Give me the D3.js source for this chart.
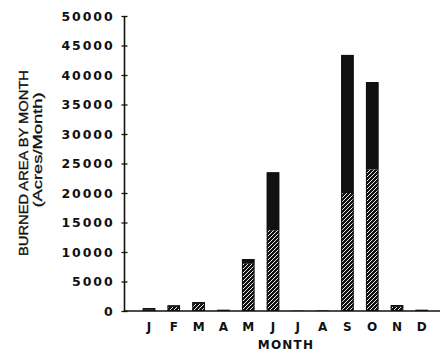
<!DOCTYPE html>
<html><head><meta charset="utf-8">
<script src="https://cdn.jsdelivr.net/npm/d3@7"></script>
<style>body{margin:0;background:#fff}svg{display:block}</style>
</head><body>
<svg id="c" width="444" height="352"></svg>
<script>
const months = ["J","F","M","A","M","J","J","A","S","O","N","D"];
const hatched = [200, 700, 1200, 50, 8000, 13700, 0, 0, 20000, 24000, 700, 50];
const solid   = [300, 250, 300, 150, 800, 9800, 60, 100, 23400, 14800, 300, 150];
const yTicks = [0,5000,10000,15000,20000,25000,30000,35000,40000,45000,50000];

const svg = d3.select("#c");
const defs = svg.append("defs");
const pat = defs.append("pattern").attr("id","hatch").attr("patternUnits","userSpaceOnUse")
  .attr("width",4).attr("height",4);
pat.append("rect").attr("width",4).attr("height",4).attr("fill","#111");
pat.append("path").attr("d","M-1,1 l2,-2 M0,4 l4,-4 M3,5 l2,-2").attr("stroke","#eee").attr("stroke-width",1);

const x = d3.scaleBand().domain(d3.range(12)).range([136.6, 434.2]);
const y = d3.scaleLinear().domain([0,50000]).range([311,16]);
const bw = 12.5;
const ink = "#111";
const font = "DejaVu Sans";

const g = svg.append("g");
const bars = g.selectAll("g.bar").data(d3.range(12)).join("g").attr("class","bar");
const bx = i => x(i) + (x.bandwidth()-bw)/2;
bars.append("rect")
  .attr("x", bx).attr("width", bw)
  .attr("y", i => y(hatched[i])).attr("height", i => y(0)-y(hatched[i]))
  .attr("fill","url(#hatch)");
bars.append("rect")
  .attr("x", bx).attr("width", bw)
  .attr("y", i => y(hatched[i]+solid[i])).attr("height", i => y(hatched[i])-y(hatched[i]+solid[i]))
  .attr("fill",ink);
bars.append("rect")
  .attr("x", i => bx(i) + 0.5).attr("width", bw-1)
  .attr("y", i => y(hatched[i]+solid[i]) + 0.5).attr("height", i => Math.max(0, y(0)-y(hatched[i]+solid[i]) - 1))
  .attr("fill","none").attr("stroke",ink).attr("stroke-width",1);

// y axis
const ya = svg.append("g").attr("transform","translate(124.5,0)")
  .call(d3.axisLeft(y).tickValues(yTicks).tickSize(3).tickPadding(7).tickFormat(d3.format("d")));
ya.select(".domain").attr("stroke",ink).attr("stroke-width",1.6).attr("d","M0,16V311");
ya.selectAll(".tick line").attr("x1",3).attr("stroke",ink).attr("stroke-width",1.3);
ya.selectAll(".tick text").attr("font-family",font).attr("font-weight","bold").attr("font-size",12.5)
  .attr("letter-spacing","1.9px").attr("fill",ink);

// x axis
const xa = svg.append("g").attr("transform","translate(0,311)")
  .call(d3.axisBottom(x).tickSize(0).tickPadding(11.5).tickFormat(i => months[i]));
xa.select(".domain").attr("stroke",ink).attr("stroke-width",1.4).attr("d","M124,0H440");
xa.selectAll(".tick text").attr("font-family",font).attr("font-weight","bold").attr("font-size",12)
  .attr("fill",ink);

// titles
svg.append("text").attr("x",286).attr("y",349).attr("text-anchor","middle")
  .attr("font-family",font).attr("font-weight","bold").attr("font-size",12).attr("letter-spacing","1.2px")
  .attr("fill",ink).text("MONTH");
svg.append("text").attr("transform","translate(28,163) rotate(-90)").attr("text-anchor","middle")
  .attr("font-family","Liberation Sans").attr("font-size",13.5).attr("textLength",186)
  .attr("lengthAdjust","spacingAndGlyphs").attr("fill",ink).attr("stroke",ink).attr("stroke-width",0.35)
  .text("BURNED AREA BY MONTH");
svg.append("text").attr("transform","translate(42,150) rotate(-90)").attr("text-anchor","middle")
  .attr("font-family","Liberation Sans").attr("font-size",13).attr("textLength",115)
  .attr("lengthAdjust","spacingAndGlyphs").attr("fill",ink).attr("stroke",ink).attr("stroke-width",0.3)
  .text("(Acres/Month)");
</script>
</body></html>
